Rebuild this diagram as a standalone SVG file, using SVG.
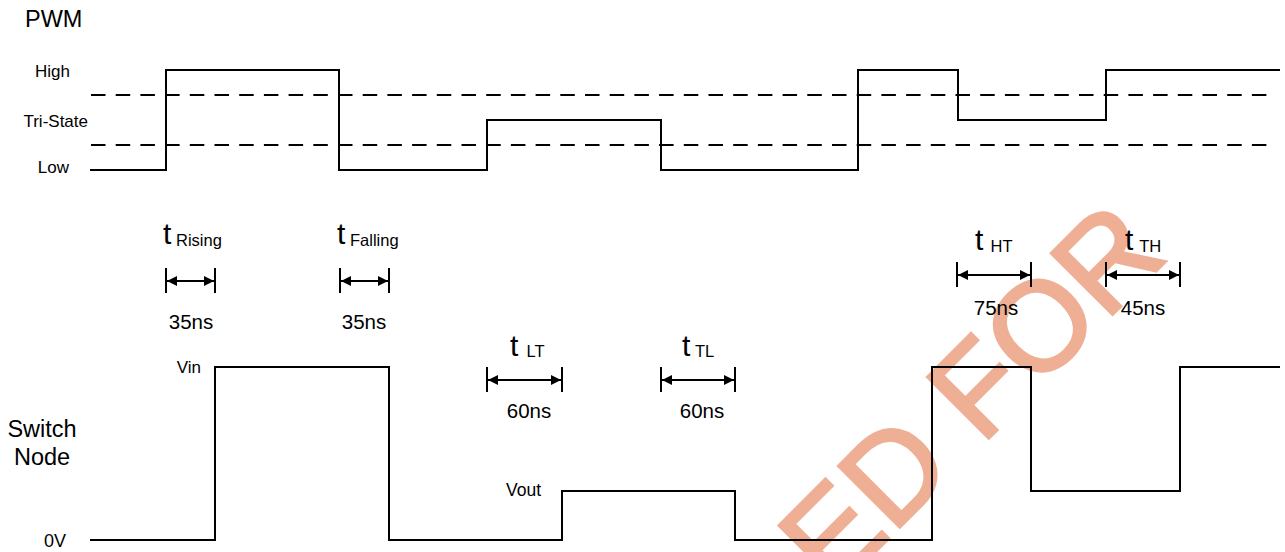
<svg xmlns="http://www.w3.org/2000/svg" width="1285" height="552" viewBox="0 0 1285 552">
<style>
  text { font-family: "Liberation Sans", Arial, sans-serif; fill: #000; }
  .lvl { font-size: 17px; text-anchor: end; }
  .big { font-size: 23.5px; }
  .ns { font-size: 20.5px; text-anchor: middle; }
  .t { font-size: 30px; }
  .sub { font-size: 16.5px; }
  .wave { fill: none; stroke: #000; stroke-width: 2; stroke-linejoin: miter; }
  .dash { fill: none; stroke: #000; stroke-width: 2; stroke-dasharray: 14.5 10.2; }
  .tick { stroke: #000; stroke-width: 2; }
  .dim { stroke: #000; stroke-width: 2; marker-start: url(#ah); marker-end: url(#ah); }
  .wm { font-family: "Liberation Sans", Arial, sans-serif; font-size: 126px; fill: #EEAF95; stroke: #EEAF95; stroke-width: 3; }
</style>
<defs>
  <marker id="ah" viewBox="0 0 10 10" refX="10" refY="5" markerWidth="10" markerHeight="10" markerUnits="userSpaceOnUse" orient="auto-start-reverse">
    <path d="M0,0 L10,5 L0,10 Z" fill="#000"/>
  </marker>
</defs>
<rect width="1285" height="552" fill="#fff"/>

<g id="watermark">
  <text class="wm" transform="translate(833,594) rotate(-45)">ED FOR</text>
</g>

<g id="pwm-labels">
  <text class="big" x="25" y="27">PWM</text>
  <text class="lvl" x="70" y="77">High</text>
  <text class="lvl" x="88" y="127">Tri-State</text>
  <text class="lvl" x="69" y="173">Low</text>
</g>

<g id="pwm-thresholds">
  <line class="dash" x1="91" y1="95" x2="1272" y2="95"/>
  <line class="dash" x1="91" y1="145" x2="1272" y2="145"/>
</g>

<g id="pwm-wave">
  <path class="wave" d="M90,170 H166 V70 H339 V170 H487 V120 H661 V170 H858 V70 H958 V120 H1106 V70 H1280"/>
</g>

<g id="sw-labels">
  <text class="big" x="42" y="437" text-anchor="middle">Switch</text>
  <text class="big" x="42" y="465" text-anchor="middle">Node</text>
  <text class="lvl" x="201" y="373">Vin</text>
  <text class="lvl" x="66" y="547" style="font-size:18px">0V</text>
  <text class="lvl" x="541" y="496" style="font-size:17.5px">Vout</text>
</g>

<g id="sw-wave">
  <path class="wave" d="M90,540 H215 V367 H389 V540 H562 V491 H735 V540 H932 V367 H1031 V491 H1180 V367 H1280"/>
</g>

<g id="t-rising">
  <text x="163" y="244"><tspan class="t">t</tspan><tspan class="sub" x="176" y="246">Rising</tspan></text>
  <line class="tick" x1="166" y1="268" x2="166" y2="293"/>
  <line class="tick" x1="215" y1="268" x2="215" y2="293"/>
  <line class="dim" x1="167" y1="281" x2="214" y2="281"/>
  <text class="ns" x="191" y="329">35ns</text>
</g>

<g id="t-falling">
  <text x="337" y="244"><tspan class="t">t</tspan><tspan class="sub" x="350" y="246">Falling</tspan></text>
  <line class="tick" x1="340" y1="268" x2="340" y2="293"/>
  <line class="tick" x1="389" y1="268" x2="389" y2="293"/>
  <line class="dim" x1="341" y1="281" x2="388" y2="281"/>
  <text class="ns" x="364" y="329">35ns</text>
</g>

<g id="t-lt">
  <text x="510" y="356"><tspan class="t">t</tspan><tspan class="sub" x="522" y="357"> LT</tspan></text>
  <line class="tick" x1="487" y1="367" x2="487" y2="392"/>
  <line class="tick" x1="562" y1="367" x2="562" y2="392"/>
  <line class="dim" x1="488" y1="380" x2="561" y2="380"/>
  <text class="ns" x="529" y="418">60ns</text>
</g>

<g id="t-tl">
  <text x="682" y="356"><tspan class="t">t</tspan><tspan class="sub" x="695" y="357">TL</tspan></text>
  <line class="tick" x1="661" y1="367" x2="661" y2="392"/>
  <line class="tick" x1="735" y1="367" x2="735" y2="392"/>
  <line class="dim" x1="662" y1="380" x2="734" y2="380"/>
  <text class="ns" x="702" y="418">60ns</text>
</g>

<g id="t-ht">
  <text x="975" y="250"><tspan class="t">t</tspan><tspan class="sub" x="986" y="252"> HT</tspan></text>
  <line class="tick" x1="957" y1="262" x2="957" y2="287"/>
  <line class="tick" x1="1031" y1="262" x2="1031" y2="287"/>
  <line class="dim" x1="958" y1="275" x2="1030" y2="275"/>
  <text class="ns" x="996" y="315">75ns</text>
</g>

<g id="t-th">
  <text x="1125" y="250"><tspan class="t">t</tspan><tspan class="sub" x="1135" y="252"> TH</tspan></text>
  <line class="tick" x1="1106" y1="262" x2="1106" y2="287"/>
  <line class="tick" x1="1180" y1="262" x2="1180" y2="287"/>
  <line class="dim" x1="1107" y1="275" x2="1179" y2="275"/>
  <text class="ns" x="1143" y="315">45ns</text>
</g>
</svg>
